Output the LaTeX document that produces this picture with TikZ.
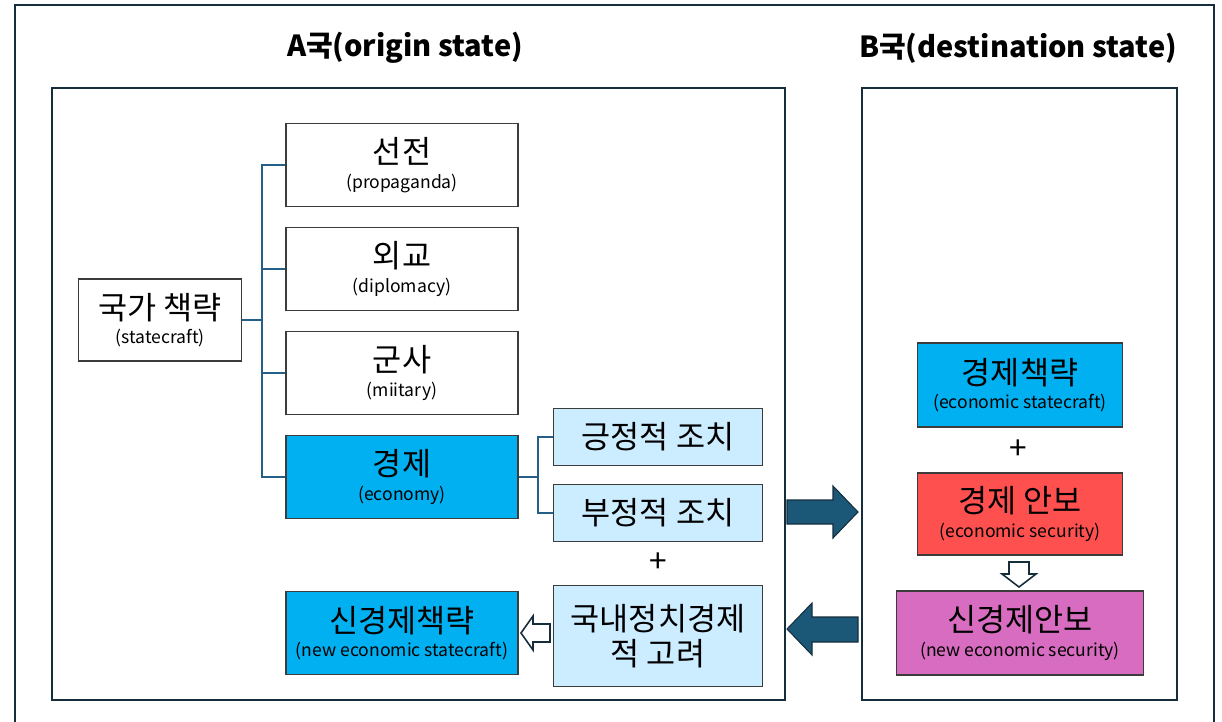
\documentclass[tikz,border=0pt]{standalone}
\usepackage{fontspec}
\setmainfont{Noto Sans CJK KR}

\definecolor{frameline}{RGB}{22,45,60}
\definecolor{boxline}{RGB}{60,60,60}
\definecolor{treeline}{RGB}{35,95,135}
\definecolor{econblue}{RGB}{0,176,240}
\definecolor{paleblue}{RGB}{204,236,255}
\definecolor{secred}{RGB}{255,80,80}
\definecolor{newpink}{RGB}{216,108,192}
\definecolor{bigarrow}{RGB}{27,88,120}

\newcommand\krtext[1]{{\fontsize{18}{22}\selectfont #1}}
\newcommand\entext[1]{{\fontsize{10}{13}\selectfont #1}}

\tikzset{
  panel/.style={draw=frameline, line width=1.3pt},
  box/.style={draw=boxline, line width=0.8pt, align=center, inner sep=0pt,
    minimum width=4.64cm, minimum height=1.66cm},
  subbox/.style={box, fill=paleblue, minimum width=4.18cm, minimum height=1.14cm},
  link/.style={draw=treeline, line width=1.1pt},
  bigarr/.style={fill=bigarrow, draw=frameline, line width=0.6pt, line join=miter},
  hollow/.style={fill=white, draw=frameline, line width=0.9pt, line join=miter},
  title/.style={font=\bfseries\fontsize{16.5}{19}\selectfont}
}

\begin{document}
\begin{tikzpicture}[x=0.02cm,y=-0.02cm]
		\useasboundingbox (0,0) rectangle (1222,721);
		% frames
		\draw[panel] (15,5) rectangle (1214,730);
		\draw[panel] (52,88) rectangle (785,700);
		\draw[panel] (862,88) rectangle (1177,700);
		\node[title] (titleA) at (405,48) {A국(origin state)};
		\node[title] (titleB) at (1018,48) {B국(destination state)};

		% origin state
		\node[box, minimum width=3.26cm, minimum height=1.64cm] (state) at (160,320)
		{\krtext{국가 책략}\\[2pt]\entext{(statecraft)}};
		\node[box] (prop) at (402,165) {\krtext{선전}\\[2pt]\entext{(propaganda)}};
		\node[box] (dipl) at (402,269) {\krtext{외교}\\[2pt]\entext{(diplomacy)}};
		\node[box] (mil) at (402,373) {\krtext{군사}\\[2pt]\entext{(miitary)}};
		\node[box, fill=econblue] (econ) at (402,477) {\krtext{경제}\\[2pt]\entext{(economy)}};
		\node[subbox] (pos) at (658,437) {\krtext{긍정적 조치}};
		\node[subbox] (neg) at (658,513) {\krtext{부정적 조치}};
		\node (plusA) at (658,563) {\krtext{+}};
		\node[subbox, minimum height=2.02cm] (dom) at (658,636)
		{\krtext{국내정치경제}\\[3pt]\krtext{적 고려}};
		\node[box, fill=econblue] (newsc) at (402,633)
		{\krtext{신경제책략}\\[2pt]\entext{(new economic statecraft)}};

		% tree links
		\coordinate (trunk) at (262,320);
		\coordinate (fork) at (538,477);
		\draw[link] (state.east) -- (trunk);
		\draw[link] (prop.west) -| (trunk) |- (econ.west);
		\draw[link] (dipl.west) -- (dipl.west -| trunk);
		\draw[link] (mil.west) -- (mil.west -| trunk);
		\draw[link] (econ.east) -- (fork);
		\draw[link] (pos.west) -| (fork) |- (neg.west);

		% destination state
		\node[box, fill=econblue, minimum width=4.1cm, minimum height=1.68cm] (esc) at (1020,385)
		{\krtext{경제책략}\\[2pt]\entext{(economic statecraft)}};
		\node (plusB) at (1018,450) {\krtext{+}};
		\node[box, fill=secred, minimum width=4.1cm, minimum height=1.64cm] (esec) at (1020,514)
		{\krtext{경제 안보}\\[2pt]\entext{(economic security)}};
		\node[box, fill=newpink, minimum width=4.94cm, minimum height=1.68cm] (newsec) at (1020,633)
		{\krtext{신경제안보}\\[2pt]\entext{(new economic security)}};

		% block arrows
		\draw[bigarr] (787,500) -- (833,500) -- (833,486) -- (858,512) -- (833,538) -- (833,524) -- (787,524) -- cycle;
		\draw[bigarr] (858,617) -- (812,617) -- (812,603) -- (787,629) -- (812,655) -- (812,642) -- (858,642) -- cycle;
		\draw[hollow] (550,624) -- (533,624) -- (533,616) -- (521,633) -- (533,650) -- (533,642) -- (550,642) -- cycle;
		\draw[hollow] (1009,562) -- (1009,574) -- (1002,574) -- (1019,587) -- (1036,574) -- (1029,574) -- (1029,562) -- cycle;
\end{tikzpicture}
\end{document}
